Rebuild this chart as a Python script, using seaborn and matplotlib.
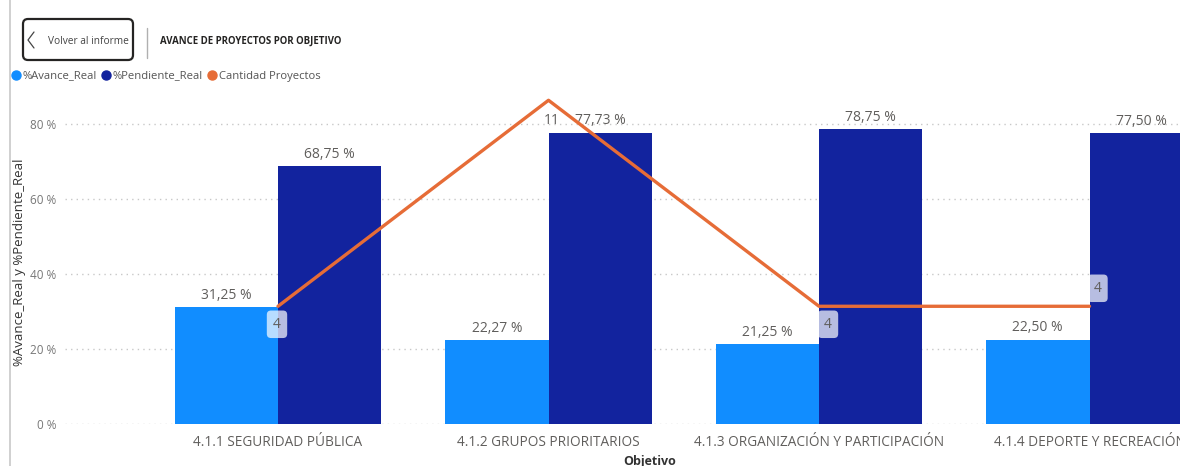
import numpy as np
import pandas as pd
import matplotlib
matplotlib.use("Agg")
import matplotlib.pyplot as plt
import matplotlib.patches as mpatches
from matplotlib.lines import Line2D
import seaborn as sns

# --- data -------------------------------------------------------------
objetivos = [
    "4.1.1 SEGURIDAD PÚBLICA",
    "4.1.2 GRUPOS PRIORITARIOS",
    "4.1.3 ORGANIZACIÓN Y PARTICIPACIÓN",
    "4.1.4 DEPORTE Y RECREACIÓN",
]
avance_real = [31.25, 22.27, 21.25, 22.50]
pendiente_real = [68.75, 77.73, 78.75, 77.50]
cantidad_proyectos = [4, 11, 4, 4]
y_ticks = [0, 20, 40, 60, 80]

series_names = ["%Avance_Real", "%Pendiente_Real"]
line_name = "Cantidad Proyectos"

C_LIGHT = "#118DFF"
C_DARK = "#12239E"
C_ORANGE = "#E66C37"
C_TEXT = "#605E5C"

sns.set_theme(style="white")
plt.rcParams["font.family"] = ["Open Sans", "DejaVu Sans"]

df = pd.DataFrame({
    "Objetivo": objetivos * 2,
    "serie": [series_names[0]] * len(objetivos) + [series_names[1]] * len(objetivos),
    "valor": avance_real + pendiente_real,
})

W, H = 1180, 466
fig = plt.figure(figsize=(W / 100, H / 100), dpi=100)

# plot area in pixel terms
ax_left, ax_bottom, ax_top = 65, 424, 90
ax = fig.add_axes([ax_left / W, (H - ax_bottom) / H,
                   (W - ax_left) / W, (ax_bottom - ax_top) / H])

sns.barplot(data=df, x="Objetivo", y="valor", hue="serie",
            palette=[C_LIGHT, C_DARK], width=0.765, gap=0,
            saturation=1, ax=ax, legend=False, errorbar=None,
            linewidth=0, edgecolor="none")

pix_per_unit = 270.5
ax.set_xlim((ax_left - 278) / pix_per_unit, (W - 278) / pix_per_unit)
ax.set_ylim(0, (ax_bottom - ax_top) / 3.75)
ax.set_yticks(y_ticks)
ax.set_yticklabels([f"{t} %" for t in y_ticks])
ax.tick_params(axis="y", colors="#777777", labelsize=8.5, length=0, pad=6)
ax.tick_params(axis="x", colors=C_TEXT, labelsize=9.8, length=0, pad=8)
ax.set_xlabel("")
ax.set_ylabel("")
for s in ax.spines.values():
    s.set_visible(False)
ax.yaxis.grid(True, linestyle=(0, (1, 3)), color="#C8C8C8", linewidth=1)
ax.set_axisbelow(True)

for cont in ax.containers:
    ax.bar_label(cont, labels=[f"{v:.2f}".replace(".", ",") + " %" for v in cont.datavalues],
                 padding=3, fontsize=10, color=C_TEXT)

# secondary axis: number of projects
ax2 = ax.twinx()
xs = np.arange(len(objetivos))
sns.lineplot(x=xs, y=cantidad_proyectos, ax=ax2, color=C_ORANGE, linewidth=2.4)
ax2.set_ylim(0, (ax_bottom - ax_top) / 29.43)
ax2.set_yticks([])
ax2.set_ylabel("")
for s in ax2.spines.values():
    s.set_visible(False)

label_offsets = [(-1, -18), (3, -20), (9, -18), (8, 18)]
for x, v, (dx, dy) in zip(xs, cantidad_proyectos, label_offsets):
    box = None if v > 10 else dict(boxstyle="round,pad=0.45,rounding_size=0.3",
                                   facecolor="white", alpha=0.7, edgecolor="none")
    ax2.annotate(str(v), (x, v), xytext=(dx, dy), textcoords="offset pixels",
                 ha="center", va="center", fontsize=10, color=C_TEXT, bbox=box)

# header: back button, separator and title
def py(y):
    return H - y

fig.add_artist(Line2D([10, 10], [0, H], transform=None, color="#C8C8C8", linewidth=1.2))
fig.add_artist(mpatches.FancyBboxPatch((23, py(60)), 110, 41, transform=None,
                                       boxstyle="round,pad=0,rounding_size=5",
                                       facecolor="white", edgecolor="#252423", linewidth=1.6))
fig.add_artist(Line2D([34, 28, 34], [py(32), py(40), py(48)], transform=None,
                      color="#444444", linewidth=0.9))
fig.text(48 / W, py(41) / H, "Volver al informe", fontsize=7.3, color="#444444",
         va="center", ha="left")
fig.add_artist(Line2D([147, 147], [py(28), py(58)], transform=None, color="#B0B0B0", linewidth=1))
fig.text(160 / W, py(41) / H, "AVANCE DE PROYECTOS POR OBJETIVO", fontsize=6.9,
         fontweight="bold", color="#252423", va="center", ha="left")

# legend
handles = [Line2D([], [], marker="o", linestyle="none", markersize=6.5, color=c)
           for c in (C_LIGHT, C_DARK, C_ORANGE)]
fig.legend(handles, series_names + [line_name], loc="center left",
           bbox_to_anchor=(10 / W, py(76) / H), ncol=3, frameon=False,
           handletextpad=0.15, columnspacing=0.25, handlelength=1.0,
           borderaxespad=0, borderpad=0,
           prop={"size": 8.1}, labelcolor="#555555")

# axis titles
fig.text(20 / W, py(262) / H, "%Avance_Real y %Pendiente_Real", rotation=90,
         fontsize=9.5, color="#333333", va="center", ha="center")
fig.text(650 / W, py(461) / H, "Objetivo", fontsize=9, fontweight="bold",
         color="#333333", va="center", ha="center")

fig.savefig("out.png", dpi=100)
